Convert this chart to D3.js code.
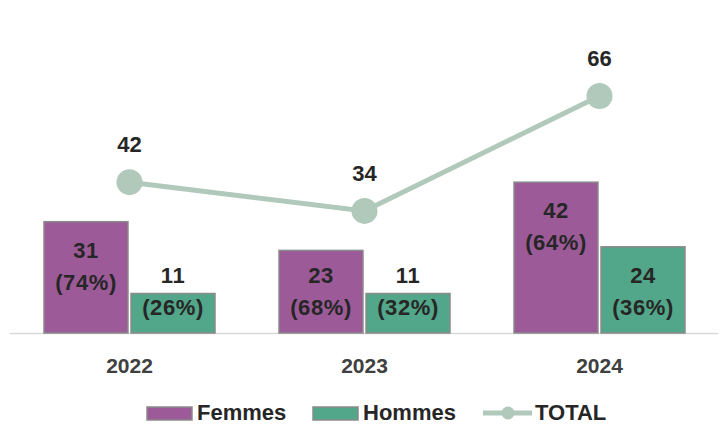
<!DOCTYPE html>
<html>
<head>
<meta charset="utf-8">
<script src="https://cdn.jsdelivr.net/npm/d3@7"></script>
<style>
  body { margin: 0; background: #fff; }
  svg { display: block; font-family: "Liberation Sans", Arial, sans-serif; font-weight: bold; }
</style>
</head>
<body>
<svg id="chart"></svg>
<script>
// Data
const years = ["2022", "2023", "2024"]
const femmes = [31, 23, 42]
const hommes = [11, 11, 24]
const femmesPct = ["74%", "68%", "64%"]
const hommesPct = ["26%", "32%", "36%"]
const total = [42, 34, 66]

// Global const
const svgWidth = 720, svgHeight = 430
const baseY = 333
const colF = "#9c5b98", colH = "#52a689", colT = "#b1c9bb", txt = "#262626"

var svg = d3.select("#chart")
    .attr("width", svgWidth)
    .attr("height", svgHeight)

var x = d3.scaleBand().domain(years).range([12, 717])
var sub = d3.scaleBand().domain(["F", "H"]).range([32, x.bandwidth() - 32]).paddingInner(0.035)
var y = d3.scaleLinear().domain([0, 66]).range([baseY, baseY - 237])

// baseline
svg.append("line")
    .attr("x1", 10).attr("x2", 718)
    .attr("y1", baseY + 0.5).attr("y2", baseY + 0.5)
    .attr("stroke", "#d9d9d9").attr("stroke-width", 1.5)

var rows = years.map((yr, i) => ({ yr, f: femmes[i], h: hommes[i], fp: femmesPct[i], hp: hommesPct[i] }))

function drawBars(key, pctKey, name, col) {
    var g = svg.append("g")
    g.selectAll("rect")
        .data(rows)
        .enter()
        .append("rect")
        .attr("x", (d) => x(d.yr) + sub(name))
        .attr("y", (d) => y(d[key]))
        .attr("width", sub.bandwidth())
        .attr("height", (d) => baseY - y(d[key]))
        .attr("fill", col)
        .attr("stroke", "#8a8a8a")
        .attr("stroke-width", 1.5)

    // labels: inside end, clamped near baseline
    var lab = g.selectAll("text")
        .data(rows)
        .enter()
        .append("text")
        .attr("text-anchor", "middle")
        .attr("font-size", 22)
        .attr("letter-spacing", 0.6)
        .attr("fill", txt)
    lab.append("tspan")
        .attr("x", (d) => x(d.yr) + sub(name) + sub.bandwidth() / 2)
        .attr("y", (d) => Math.min(y(d[key]) + 36, 283))
        .text((d) => d[key])
    lab.append("tspan")
        .attr("x", (d) => x(d.yr) + sub(name) + sub.bandwidth() / 2)
        .attr("y", (d) => Math.min(y(d[key]) + 36, 283) + 32)
        .text((d) => "(" + d[pctKey] + ")")
}
drawBars("f", "fp", "F", colF)
drawBars("h", "hp", "H", colH)

// Total line
var cx = (d, i) => x(years[i]) + x.bandwidth() / 2
svg.append("path")
    .datum(total)
    .attr("d", d3.line().x(cx).y((d) => y(d)))
    .attr("fill", "none")
    .attr("stroke", colT)
    .attr("stroke-width", 5)
svg.selectAll("circle.tot")
    .data(total)
    .enter()
    .append("circle")
    .attr("class", "tot")
    .attr("cx", cx)
    .attr("cy", (d) => y(d))
    .attr("r", 13)
    .attr("fill", colT)
svg.selectAll("text.tot")
    .data(total)
    .enter()
    .append("text")
    .attr("class", "tot")
    .attr("x", cx)
    .attr("y", (d) => y(d) - 30)
    .attr("text-anchor", "middle")
    .attr("font-size", 22)
    .attr("fill", txt)
    .text((d) => d)

// x axis labels
svg.selectAll("text.xl")
    .data(years)
    .enter()
    .append("text")
    .attr("class", "xl")
    .attr("x", (d) => x(d) + x.bandwidth() / 2)
    .attr("y", 373)
    .attr("text-anchor", "middle")
    .attr("font-size", 21)
    .attr("fill", "#404040")
    .text((d) => d)

// Legend
var leg = svg.append("g")
leg.append("rect").attr("x", 147).attr("y", 407).attr("width", 45).attr("height", 13)
    .attr("fill", colF).attr("stroke", "#8a8a8a").attr("stroke-width", 1.5)
leg.append("text").attr("x", 197).attr("y", 420).attr("font-size", 22).attr("fill", txt).text("Femmes")
leg.append("rect").attr("x", 313).attr("y", 407).attr("width", 45).attr("height", 13)
    .attr("fill", colH).attr("stroke", "#8a8a8a").attr("stroke-width", 1.5)
leg.append("text").attr("x", 363).attr("y", 420).attr("font-size", 22).attr("fill", txt).text("Hommes")
leg.append("line").attr("x1", 483).attr("x2", 532).attr("y1", 413).attr("y2", 413)
    .attr("stroke", colT).attr("stroke-width", 5)
leg.append("circle").attr("cx", 508).attr("cy", 413).attr("r", 6.5).attr("fill", colT)
leg.append("text").attr("x", 535).attr("y", 420).attr("font-size", 22).attr("fill", txt).text("TOTAL")
</script>
</body>
</html>
